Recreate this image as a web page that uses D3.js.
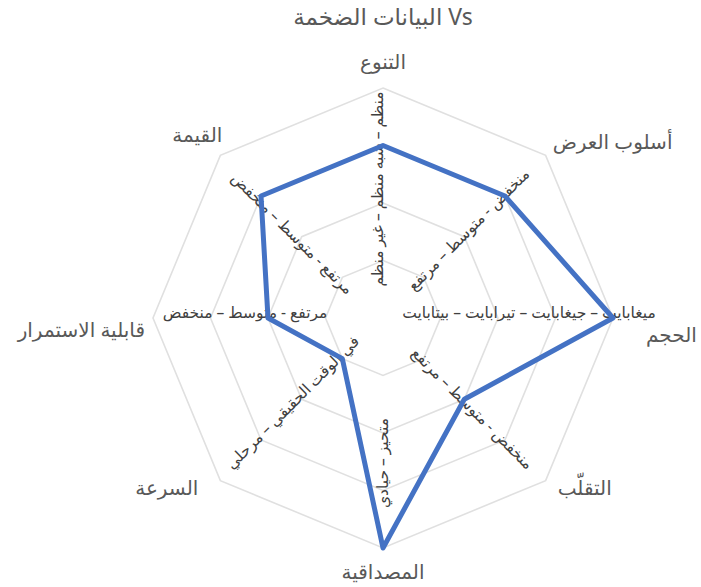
<!DOCTYPE html>
<html>
<head>
<meta charset="utf-8">
<script src="https://cdn.jsdelivr.net/npm/d3@7"></script>
<style>
  html, body { margin: 0; padding: 0; background: #fff; }
  svg { display: block; font-family: "Noto Sans", "DejaVu Sans", sans-serif; }
</style>
</head>
<body>
<svg id="chart" width="701" height="587"></svg>
<script>
// Big data dimensions, clockwise from the top
const categories = ["التنوع", "أسلوب العرض", "الحجم", "التقلّب", "المصداقية", "السرعة", "قابلية الاستمرار", "القيمة"];
// Score of each dimension on a 0–4 scale
const values = [3, 3, 4, 2, 4, 1, 2, 3];
// Scale description written along each spoke
const scaleNotes = [
  "منظم – شبه منظم – غير منظم",
  "منخفض - متوسط – مرتفع",
  "ميغابايت – جيغابايت – تيرابايت – بيتابايت",
  "منخفض - متوسط – مرتفع",
  "متحيز – حيادي",
  "في الوقت الحقيقي – مرحلي",
  "مرتفع - متوسط – منخفض",
  "مرتفع - متوسط – منخفض"
];
const gridLevels = [1, 2, 3, 4];
const chartTitle = "Vs البيانات الضخمة";

const svg = d3.select("#chart");
const cx = 383, cy = 318, R = 230;
const n = categories.length;

const r = d3.scaleLinear().domain([0, 4]).range([0, R]);
const angle = i => i * 2 * Math.PI / n;
const px = (i, v) => cx + r(v) * Math.sin(angle(i));
const py = (i, v) => cy - r(v) * Math.cos(angle(i));

const g = svg.append("g");

// concentric octagon gridlines
const ring = d3.line().curve(d3.curveLinearClosed);
g.selectAll("path.grid")
  .data(gridLevels)
  .join("path")
  .attr("class", "grid")
  .attr("d", lv => ring(d3.range(n).map(i => [px(i, lv), py(i, lv)])))
  .attr("fill", "none")
  .attr("stroke", "#e0e0e0")
  .attr("stroke-width", 1.6);

// scale notes laid along the spokes
const notePlacement = [
  { x: 377, y: 189, rot: -90 },
  { x: 468, y: 229, rot: -45 },
  { x: 529, y: 312, rot: 0 },
  { x: 473, y: 408, rot: 45 },
  { x: 382, y: 463, rot: -90 },
  { x: 292, y: 402, rot: -45 },
  { x: 245, y: 312, rot: 0 },
  { x: 293, y: 233, rot: 45 }
];
g.selectAll("text.note")
  .data(scaleNotes)
  .join("text")
  .attr("class", "note")
  .attr("transform", (d, i) => `translate(${notePlacement[i].x},${notePlacement[i].y}) rotate(${notePlacement[i].rot})`)
  .attr("text-anchor", "middle")
  .attr("dominant-baseline", "central")
  .attr("font-size", 15.5)
  .attr("fill", "#404040")
  .text(d => d);

// data polygon
g.append("path")
  .attr("d", ring(values.map((v, i) => [px(i, v), py(i, v)])))
  .attr("fill", "none")
  .attr("stroke", "#4472c4")
  .attr("stroke-width", 5)
  .attr("stroke-linejoin", "round");

// category labels just outside the outer ring
const labelPlacement = [
  { dx: 0, dy: -19, anchor: "middle" },
  { dx: 7, dy: -6, anchor: "start" },
  { dx: 33, dy: 24, anchor: "start" },
  { dx: 12, dy: 14, anchor: "start" },
  { dx: 0, dy: 31, anchor: "middle" },
  { dx: -22, dy: 14, anchor: "end" },
  { dx: -8, dy: 19, anchor: "end" },
  { dx: 2, dy: -13, anchor: "end" }
];
g.selectAll("text.cat")
  .data(categories)
  .join("text")
  .attr("class", "cat")
  .attr("x", (d, i) => px(i, 4) + labelPlacement[i].dx)
  .attr("y", (d, i) => py(i, 4) + labelPlacement[i].dy)
  .attr("text-anchor", (d, i) => labelPlacement[i].anchor)
  .attr("font-size", 20)
  .attr("fill", "#595959")
  .text(d => d);

// title
svg.append("text")
  .attr("x", 383)
  .attr("y", 25)
  .attr("text-anchor", "middle")
  .attr("direction", "rtl")
  .attr("font-size", 23)
  .attr("fill", "#595959")
  .text(chartTitle);
</script>
</body>
</html>
